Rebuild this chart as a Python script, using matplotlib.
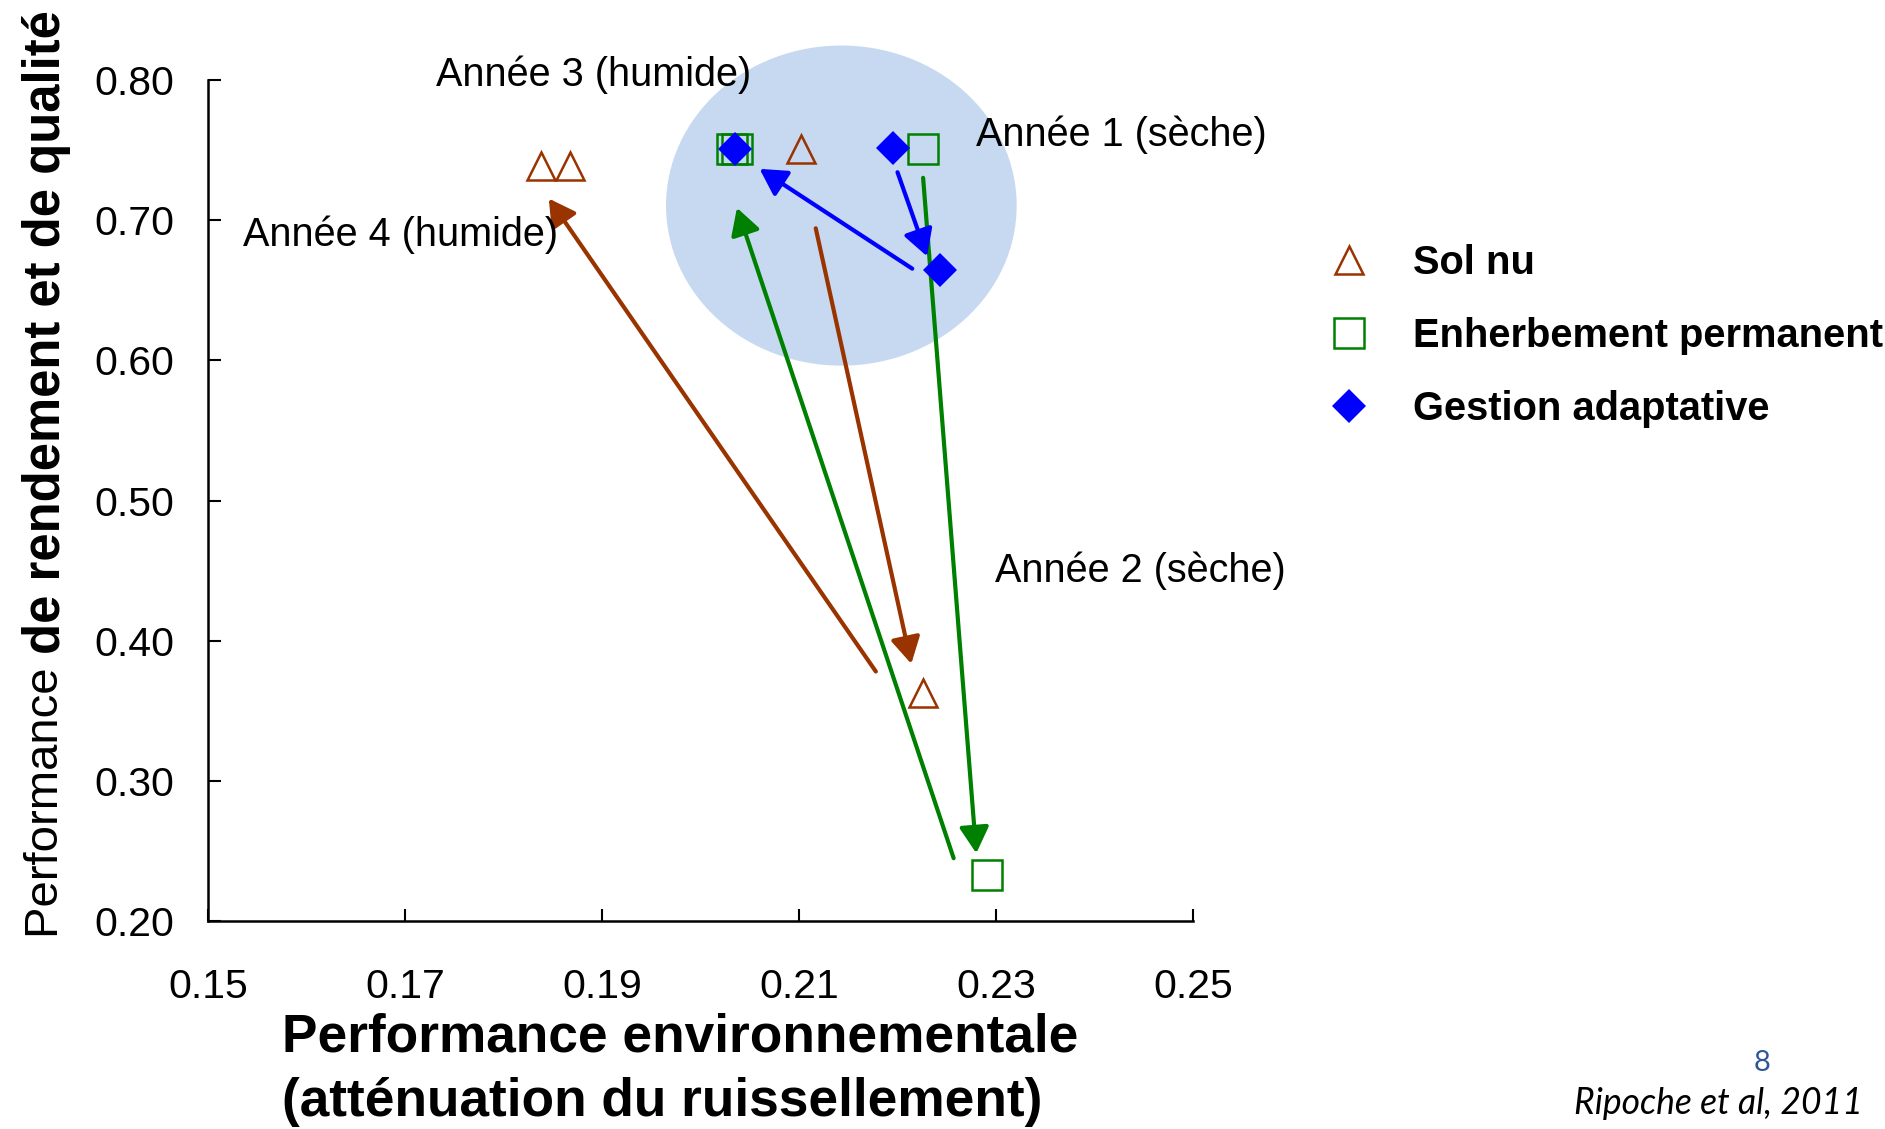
import matplotlib
matplotlib.use('Agg')
import matplotlib.pyplot as plt
from matplotlib.patches import Ellipse
from matplotlib.lines import Line2D
from matplotlib import font_manager as fm


def has_font(name):
    try:
        fm.findfont(fm.FontProperties(family=name), fallback_to_default=False)
        return True
    except Exception:
        return False


BASE = 'Liberation Sans' if has_font('Liberation Sans') else 'DejaVu Sans'
ITAL = 'Lato' if has_font('Lato') else BASE
plt.rcParams['font.family'] = [BASE, 'DejaVu Sans']

# ---------------- data ----------------
series_names = ['Sol nu', 'Enherbement permanent', 'Gestion adaptative']
sol_nu_x = [0.2102, 0.2226, 0.1868, 0.1838]
sol_nu_y = [0.7510, 0.3626, 0.7386, 0.7386]
enherb_x = [0.2226, 0.2291, 0.2037, 0.2032]
enherb_y = [0.7507, 0.2325, 0.7511, 0.7511]
gestion_x = [0.2195, 0.2243, 0.2035]
gestion_y = [0.7512, 0.6641, 0.7511]

arrow_start_x = [0.2117, 0.2178, 0.2226, 0.2257, 0.2200, 0.2215]
arrow_start_y = [0.6942, 0.3780, 0.7302, 0.2448, 0.7342, 0.6654]
arrow_end_x = [0.2214, 0.1846, 0.2280, 0.2037, 0.2230, 0.2060]
arrow_end_y = [0.3835, 0.7154, 0.2483, 0.7088, 0.6742, 0.7366]
arrow_series = [0, 0, 1, 1, 2, 2]

year_labels = ['Année 1 (sèche)', 'Année 2 (sèche)', 'Année 3 (humide)', 'Année 4 (humide)']

x_ticks = [0.15, 0.17, 0.19, 0.21, 0.23, 0.25]
y_ticks = [0.20, 0.30, 0.40, 0.50, 0.60, 0.70, 0.80]

BROWN = '#993300'
GREEN = '#008000'
BLUE = '#0000FF'
colors = [BROWN, GREEN, BLUE]

# ---------------- figure ----------------
fig = plt.figure(figsize=(18.85, 11.29), dpi=100)
ax = fig.add_axes([208 / 1885, 1 - 921 / 1129, 985 / 1885, 841 / 1129])
ax.set_xlim(0.15, 0.25)
ax.set_ylim(0.20, 0.80)

for s in ['top', 'right']:
    ax.spines[s].set_visible(False)
for s in ['left', 'bottom']:
    ax.spines[s].set_linewidth(1.8)
    ax.spines[s].set_color('black')

ax.set_xticks(x_ticks)
ax.set_xticklabels([f'{v:.2f}' for v in x_ticks])
ax.set_yticks(y_ticks)
ax.set_yticklabels([f'{v:.2f}' for v in y_ticks])
ax.tick_params(axis='both', direction='in', length=9, width=1.5, labelsize=29.5)
ax.tick_params(axis='x', pad=34)
ax.tick_params(axis='y', pad=24)

# shaded ellipse
ax.add_patch(Ellipse((0.2143, 0.7104), 0.0356, 0.2284, facecolor='#C6D9F1',
                     edgecolor='none', zorder=0, clip_on=False))

# arrows
for sx, sy, ex, ey, si in zip(arrow_start_x, arrow_start_y, arrow_end_x, arrow_end_y, arrow_series):
    ax.annotate('', xy=(ex, ey), xytext=(sx, sy),
                arrowprops=dict(arrowstyle='-|>,head_length=0.8,head_width=0.45',
                                mutation_scale=20, lw=3.0, color=colors[si],
                                shrinkA=0, shrinkB=0), zorder=2)

# markers
ax.plot(sol_nu_x, sol_nu_y, linestyle='none', marker='^', ms=20, mew=1.8,
        mfc='none', mec=BROWN, zorder=3, clip_on=False)
ax.plot(enherb_x, enherb_y, linestyle='none', marker='s', ms=21, mew=1.8,
        mfc='none', mec=GREEN, zorder=3, clip_on=False)
ax.plot(gestion_x, gestion_y, linestyle='none', marker='D', ms=17.5, mew=0,
        mfc=BLUE, zorder=4, clip_on=False)

# year annotations
ann_fs = 28.5
ax.text(0.2280, 0.7606, year_labels[0], fontsize=ann_fs, ha='left', va='center')
ax.text(0.2299, 0.4501, year_labels[1], fontsize=ann_fs, ha='left', va='center')
ax.text(0.1731, 0.8035, year_labels[2], fontsize=ann_fs, ha='left', va='center', clip_on=False)
ax.text(0.1536, 0.6893, year_labels[3], fontsize=ann_fs, ha='left', va='center')

# legend
handles = [
    Line2D([], [], linestyle='none', marker='^', ms=20, mew=1.8, mfc='none', mec=BROWN),
    Line2D([], [], linestyle='none', marker='s', ms=21, mew=1.8, mfc='none', mec=GREEN),
    Line2D([], [], linestyle='none', marker='D', ms=17.5, mew=0, mfc=BLUE),
]
fig.legend(handles, series_names, loc='upper left', bbox_to_anchor=(1329 / 1885, 1 - 244 / 1129),
           frameon=False, prop=dict(family=BASE, weight='bold', size=28.7),
           handlelength=1.0, handletextpad=1.1, labelspacing=0.88,
           borderpad=0, borderaxespad=0)

# x label
fig.text(282 / 1885, 1 - 1070 / 1129,
         'Performance environnementale\n(atténuation du ruissellement)',
         fontsize=38.3, fontweight='bold',
         ha='left', va='center', multialignment='left', linespacing=1.36)

# y label (two parts with different styles)
fig.canvas.draw()
r = fig.canvas.get_renderer()
t1 = fig.text(24 / 1885, 1 - 938 / 1129, 'Performance ', rotation=90,
              fontsize=34, ha='left', va='bottom')
bb = t1.get_window_extent(renderer=r)
t2 = fig.text(22 / 1885, bb.y1 / 1129, 'de rendement et de qualité', rotation=90,
              fontsize=36.5, fontweight='bold', ha='left', va='bottom')

# page number and reference
fig.text(1762 / 1885, 1 - 1063 / 1129, '8', fontsize=21, color='#2F5597',
         family=[ITAL, BASE], ha='center', va='center')
fig.text(1863 / 1885, 1 - 1103 / 1129, 'Ripoche et al, 2011', fontsize=25.6,
         family=[ITAL, BASE], style='italic', ha='right', va='center')

fig.savefig('out.png', dpi=100)
